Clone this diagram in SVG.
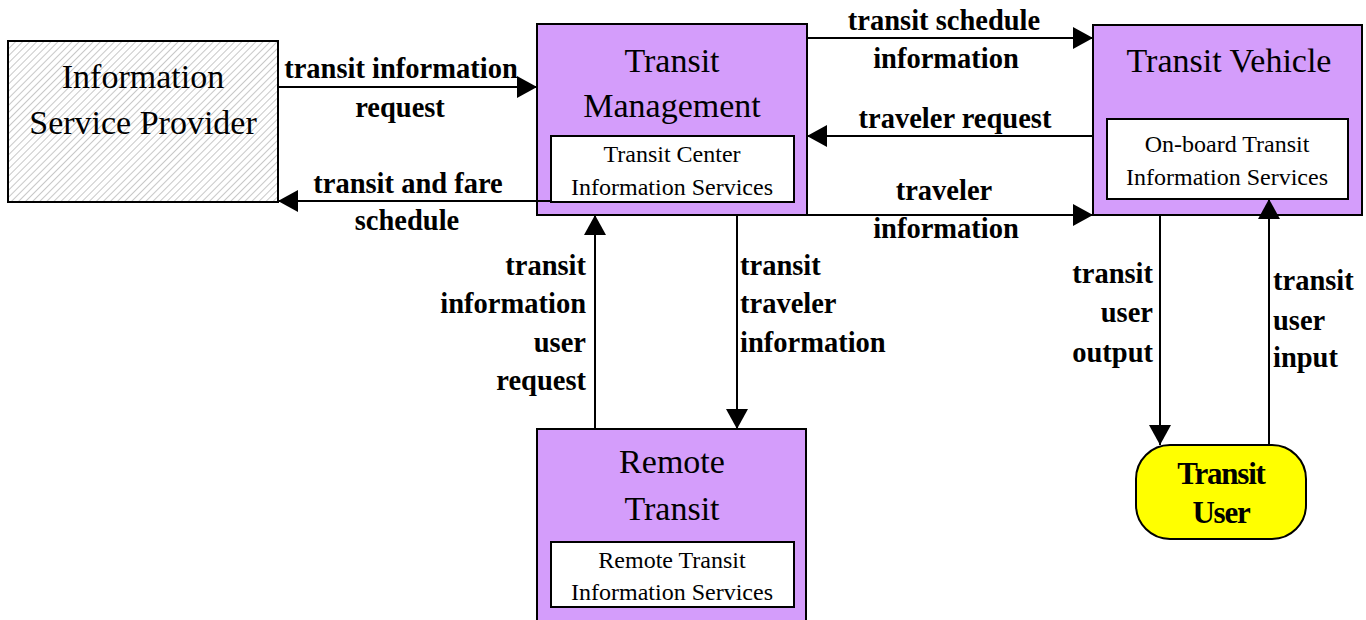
<svg xmlns="http://www.w3.org/2000/svg" width="1366" height="620" viewBox="0 0 1366 620">
<style>
.box{fill:#d49dfb;stroke:#000;stroke-width:2}
.inner{fill:#fff;stroke:#000;stroke-width:2}
.title{font-family:'Liberation Serif','Times New Roman',Times,serif;font-size:34px;fill:#000;text-anchor:middle}
.sub{font-family:'Liberation Serif','Times New Roman',Times,serif;font-size:24px;fill:#000;text-anchor:middle}
.lbl{font-family:'Liberation Serif','Times New Roman',Times,serif;font-size:28.5px;font-weight:bold;fill:#000}
.c{text-anchor:middle}
.r{text-anchor:end}
.l{text-anchor:start}
.conn{stroke:#000;stroke-width:2;fill:none;marker-end:url(#arr)}
</style>
<defs>
<pattern id="hatch" patternUnits="userSpaceOnUse" width="5" height="5" patternTransform="rotate(45)">
<rect width="5" height="5" fill="#fff"/>
<line x1="0" y1="0" x2="0" y2="5" stroke="#b0b0b0" stroke-width="1.4"/>
</pattern>
<marker id="arr" markerUnits="userSpaceOnUse" markerWidth="20" markerHeight="22" refX="20" refY="11" orient="auto">
<path d="M0,0 L20,11 L0,22 z" fill="#000"/>
</marker>
</defs>

<g id="isp">
<rect x="8" y="41" width="270" height="161" fill="url(#hatch)" stroke="#000" stroke-width="2"/>
<text class="title" x="143" y="88">Information</text>
<text class="title" x="143" y="134">Service Provider</text>
</g>

<g id="transit-management">
<rect class="box" x="537" y="24" width="270" height="191"/>
<text class="title" x="672" y="72">Transit</text>
<text class="title" x="672" y="117">Management</text>
<rect class="inner" x="551" y="136" width="243" height="66"/>
<text class="sub" x="672" y="162">Transit Center</text>
<text class="sub" x="672" y="195">Information Services</text>
</g>

<g id="transit-vehicle">
<rect class="box" x="1093" y="25" width="269" height="190"/>
<text class="title" x="1229" y="72">Transit Vehicle</text>
<rect class="inner" x="1107" y="119" width="241" height="80"/>
<text class="sub" x="1227" y="152">On-board Transit</text>
<text class="sub" x="1227" y="185">Information Services</text>
</g>

<g id="remote-transit">
<rect class="box" x="537" y="429" width="269" height="200"/>
<text class="title" x="672" y="473">Remote</text>
<text class="title" x="672" y="520">Transit</text>
<rect class="inner" x="551" y="542" width="243" height="65"/>
<text class="sub" x="672" y="568">Remote Transit</text>
<text class="sub" x="672" y="600">Information Services</text>
</g>

<g id="transit-user">
<rect x="1136" y="445" width="170" height="94" rx="34" ry="34" fill="#ffff00" stroke="#000" stroke-width="2"/>
<text class="lbl c" x="1221" y="484" style="font-size:31px;letter-spacing:-1.2px">Transit</text>
<text class="lbl c" x="1221" y="523" style="font-size:31px;letter-spacing:-1.2px">User</text>
</g>

<g id="connectors">
<line class="conn" x1="278" y1="87" x2="537" y2="87"/>
<line class="conn" x1="551" y1="201" x2="278" y2="201"/>
<line class="conn" x1="807" y1="38" x2="1093" y2="38"/>
<line class="conn" x1="1093" y1="136" x2="807" y2="136"/>
<line class="conn" x1="807" y1="215" x2="1093" y2="215"/>
<line class="conn" x1="595" y1="429" x2="595" y2="215"/>
<line class="conn" x1="737" y1="215" x2="737" y2="429"/>
<line class="conn" x1="1160" y1="215" x2="1160" y2="445"/>
<line class="conn" x1="1269" y1="445" x2="1269" y2="199"/>

<text class="lbl c" x="401" y="78">transit information</text>
<text class="lbl c" x="400" y="117">request</text>
<text class="lbl c" x="408" y="193">transit and fare</text>
<text class="lbl c" x="407" y="230">schedule</text>
<text class="lbl c" x="944" y="30">transit schedule</text>
<text class="lbl c" x="946" y="68">information</text>
<text class="lbl c" x="955" y="128">traveler request</text>
<text class="lbl c" x="944" y="200">traveler</text>
<text class="lbl c" x="946" y="238">information</text>
<text class="lbl r" x="586" y="275">transit</text>
<text class="lbl r" x="586" y="313">information</text>
<text class="lbl r" x="586" y="352">user</text>
<text class="lbl r" x="586" y="390">request</text>
<text class="lbl l" x="740" y="275">transit</text>
<text class="lbl l" x="740" y="313">traveler</text>
<text class="lbl l" x="740" y="352">information</text>
<text class="lbl r" x="1153" y="283">transit</text>
<text class="lbl r" x="1153" y="322">user</text>
<text class="lbl r" x="1153" y="362">output</text>
<text class="lbl l" x="1273" y="290">transit</text>
<text class="lbl l" x="1273" y="330">user</text>
<text class="lbl l" x="1273" y="367">input</text>
</g>
</svg>
